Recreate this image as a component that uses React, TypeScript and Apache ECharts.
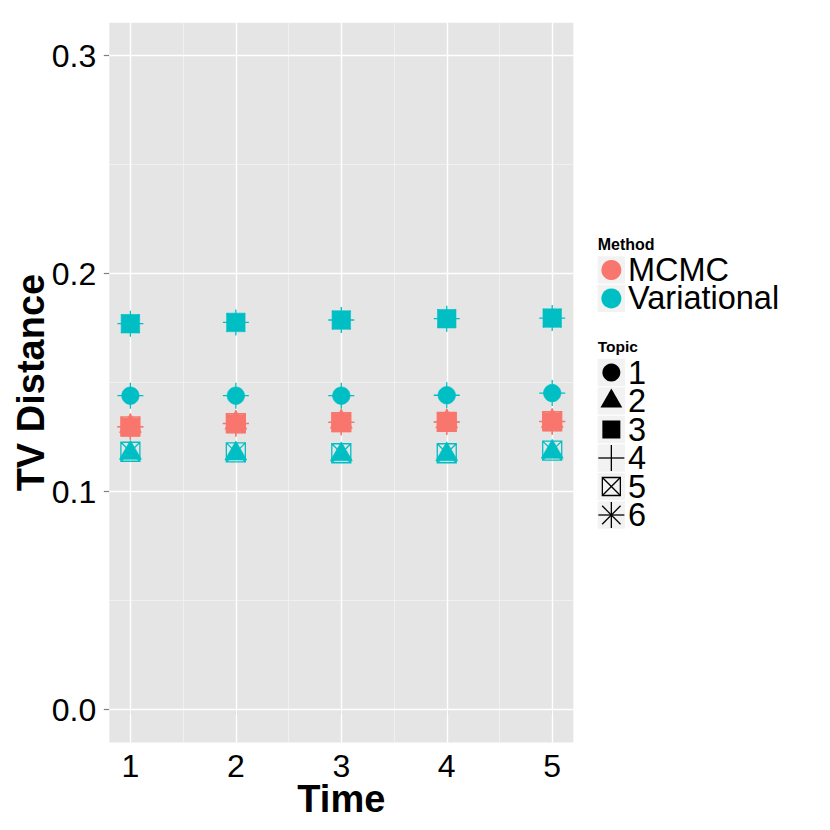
import React, { useEffect, useRef } from "react";
import * as echarts from "echarts";

// ---- Data ----
const times = [1, 2, 3, 4, 5];
const methods = ["MCMC", "Variational"];
const topics = ["1", "2", "3", "4", "5", "6"];
const methodColors = ["#F8766D", "#00BFC4"];

const mcmcTopic1 = [0.1298, 0.1313, 0.1318, 0.1319, 0.1321];
const mcmcTopic2 = [0.1301, 0.1316, 0.1321, 0.1322, 0.1324];
const mcmcTopic3 = [0.1296, 0.1311, 0.1317, 0.1318, 0.132];
const mcmcTopic4 = [0.1298, 0.1313, 0.1318, 0.132, 0.1322];
const mcmcTopic5 = [0.1299, 0.1314, 0.1319, 0.132, 0.1323];
const mcmcTopic6 = [0.1297, 0.1312, 0.1318, 0.1319, 0.1321];

const variationalTopic1 = [0.144, 0.144, 0.144, 0.1442, 0.1452];
const variationalTopic2 = [0.1178, 0.1175, 0.1171, 0.1171, 0.1183];
const variationalTopic3 = [0.177, 0.1776, 0.1787, 0.1793, 0.1796];
const variationalTopic4 = [0.144, 0.144, 0.144, 0.1442, 0.1452];
const variationalTopic5 = [0.1183, 0.118, 0.1176, 0.1176, 0.1188];
const variationalTopic6 = [0.177, 0.1776, 0.1787, 0.1793, 0.1796];

const valuesByMethod = [
  [mcmcTopic1, mcmcTopic2, mcmcTopic3, mcmcTopic4, mcmcTopic5, mcmcTopic6],
  [
    variationalTopic1,
    variationalTopic2,
    variationalTopic3,
    variationalTopic4,
    variationalTopic5,
    variationalTopic6,
  ],
];

const yTicks = [0, 0.1, 0.2, 0.3];
const yMinorTicks = [0.05, 0.15, 0.25];
const xTicks = [1, 2, 3, 4, 5];
const xMinorTicks = [1.5, 2.5, 3.5, 4.5];

const FONT = "'Liberation Sans', Arial, Helvetica, sans-serif";

type TopicSymbol = {
  symbol: string;
  size: number | number[];
  offset?: number[];
  filled: boolean;
};

const topicSymbols: TopicSymbol[] = [
  { symbol: "circle", size: 17.5, filled: true },
  { symbol: "triangle", size: [22, 19], offset: [0, -3], filled: true },
  { symbol: "rect", size: 18.5, filled: true },
  { symbol: "path://M0,10L20,10M10,0L10,20", size: 26, filled: false },
  {
    symbol: "path://M0,0L20,0L20,20L0,20ZM0,0L20,20M20,0L0,20",
    size: 19,
    filled: false,
  },
  {
    symbol:
      "path://M0,10L20,10M10,0L10,20M2.929,2.929L17.071,17.071M17.071,2.929L2.929,17.071",
    size: 26,
    filled: false,
  },
];

function buildLegend(): any[] {
  const els: any[] = [];
  const lx = 597.7;
  const key = 27.3;
  const cx = lx + key / 2;
  const labelX = 628;
  const step = 28.4;
  const keyBg = "#F2F2F2";

  els.push({
    type: "text",
    x: lx,
    y: 244,
    style: {
      text: "Method",
      font: `bold 16px ${FONT}`,
      fill: "#000",
      align: "left",
      verticalAlign: "middle",
      lineHeight: 14,
    },
  });
  methods.forEach((m, i) => {
    const cy = 270 + i * step;
    els.push({
      type: "rect",
      shape: { x: lx, y: cy - key / 2, width: key, height: key },
      style: { fill: keyBg },
    });
    els.push({
      type: "circle",
      shape: { cx, cy, r: 10 },
      style: { fill: methodColors[i] },
    });
    els.push({
      type: "text",
      x: labelX,
      y: cy,
      style: {
        text: m,
        font: `32.5px ${FONT}`,
        fill: "#000",
        align: "left",
        verticalAlign: "middle",
        lineHeight: 26,
      },
    });
  });

  els.push({
    type: "text",
    x: lx,
    y: 346,
    style: {
      text: "Topic",
      font: `bold 15.5px ${FONT}`,
      fill: "#000",
      align: "left",
      verticalAlign: "middle",
      lineHeight: 14,
    },
  });

  const line = (x1: number, y1: number, x2: number, y2: number) => ({
    type: "line",
    shape: { x1, y1, x2, y2 },
    style: { stroke: "#000", lineWidth: 1.3 },
  });

  topics.forEach((t, i) => {
    const cy = 372.5 + i * 28.5;
    els.push({
      type: "rect",
      shape: { x: lx, y: cy - key / 2, width: key, height: key },
      style: { fill: keyBg },
    });
    if (i === 0) {
      els.push({ type: "circle", shape: { cx, cy, r: 9 }, style: { fill: "#000" } });
    } else if (i === 1) {
      els.push({
        type: "polygon",
        shape: {
          points: [
            [cx, cy - 12.4],
            [cx + 10.9, cy + 6.4],
            [cx - 10.9, cy + 6.4],
          ],
        },
        style: { fill: "#000" },
      });
    } else if (i === 2) {
      els.push({
        type: "rect",
        shape: { x: cx - 9, y: cy - 9, width: 18, height: 18 },
        style: { fill: "#000" },
      });
    } else if (i === 3) {
      els.push(line(cx - 13, cy, cx + 13, cy));
      els.push(line(cx, cy - 13, cx, cy + 13));
    } else if (i === 4) {
      els.push({
        type: "rect",
        shape: { x: cx - 9, y: cy - 9, width: 18, height: 18 },
        style: { fill: "none", stroke: "#000", lineWidth: 1.3 },
      });
      els.push(line(cx - 9, cy - 9, cx + 9, cy + 9));
      els.push(line(cx + 9, cy - 9, cx - 9, cy + 9));
    } else {
      const d = 9.2;
      els.push(line(cx - 13, cy, cx + 13, cy));
      els.push(line(cx, cy - 13, cx, cy + 13));
      els.push(line(cx - d, cy - d, cx + d, cy + d));
      els.push(line(cx + d, cy - d, cx - d, cy + d));
    }
    els.push({
      type: "text",
      x: labelX,
      y: cy,
      style: {
        text: t,
        font: `32.5px ${FONT}`,
        fill: "#000",
        align: "left",
        verticalAlign: "middle",
        lineHeight: 26,
      },
    });
  });

  // axis titles
  els.push({
    type: "text",
    x: 341.3,
    y: 799,
    style: {
      text: "Time",
      font: `bold 38px ${FONT}`,
      fill: "#000",
      align: "center",
      verticalAlign: "middle",
    },
  });
  els.push({
    type: "text",
    x: 31,
    y: 382.6,
    rotation: Math.PI / 2,
    style: {
      text: "TV Distance",
      font: `bold 38px ${FONT}`,
      fill: "#000",
      align: "center",
      verticalAlign: "middle",
    },
  });
  return els;
}

export default function App() {
  const ref = useRef<HTMLDivElement>(null);

  useEffect(() => {
    document.body.style.margin = "0";
    if (!ref.current) return;
    const chart = echarts.init(ref.current, undefined, { renderer: "svg" });

    const gridLines = [
      ...yMinorTicks.map((v) => ({
        yAxis: v,
        lineStyle: { color: "#F2F2F2", width: 0.8, type: "solid" },
      })),
      ...xMinorTicks.map((v) => ({
        xAxis: v,
        lineStyle: { color: "#F2F2F2", width: 0.8, type: "solid" },
      })),
      ...yTicks.map((v) => ({
        yAxis: v,
        lineStyle: { color: "#FFFFFF", width: 1.4, type: "solid" },
      })),
      ...xTicks.map((v) => ({
        xAxis: v,
        lineStyle: { color: "#FFFFFF", width: 1.4, type: "solid" },
      })),
    ];

    const series: any[] = [];
    methods.forEach((m, mi) => {
      topics.forEach((t, ti) => {
        const sym = topicSymbols[ti];
        const color = methodColors[mi];
        const s: any = {
          type: "scatter",
          name: `${m} ${t}`,
          z: 3,
          symbol: sym.symbol,
          symbolSize: sym.size,
          symbolOffset: sym.offset || [0, 0],
          data: times.map((x, i) => [x, valuesByMethod[mi][ti][i]]),
          itemStyle: sym.filled
            ? { color, borderColor: color, borderWidth: 0.6, opacity: 1 }
            : {
                color: "rgba(0,0,0,0)",
                borderColor: color,
                borderWidth: 1.3,
                opacity: 1,
              },
          emphasis: { disabled: true },
          silent: true,
        };
        if (mi === 0 && ti === 0) {
          s.markLine = {
            silent: true,
            z: 1,
            symbol: ["none", "none"],
            label: { show: false },
            emphasis: { disabled: true },
            animation: false,
            data: gridLines,
          };
        }
        series.push(s);
      });
    });

    chart.setOption({
      animation: false,
      grid: {
        left: 109.3,
        top: 22.8,
        width: 464,
        height: 719.6,
        show: true,
        backgroundColor: "#E5E5E5",
        borderWidth: 0,
        containLabel: false,
        outerBoundsMode: "none",
      },
      xAxis: {
        type: "value",
        min: 0.8,
        max: 5.2,
        axisLine: { show: false },
        splitLine: { show: false },
        axisTick: {
          show: true,
          customValues: xTicks,
          length: 5.5,
          lineStyle: { color: "#7F7F7F", width: 1.2 },
        },
        axisLabel: {
          show: true,
          customValues: xTicks,
          margin: 8,
          fontSize: 32,
          fontFamily: FONT,
          color: "#000",
          formatter: (v: number) => String(v),
        },
      },
      yAxis: {
        type: "value",
        min: -0.015,
        max: 0.315,
        axisLine: { show: false },
        splitLine: { show: false },
        axisTick: {
          show: true,
          customValues: yTicks,
          length: 5.5,
          lineStyle: { color: "#7F7F7F", width: 1.2 },
        },
        axisLabel: {
          show: true,
          customValues: yTicks,
          margin: 13,
          fontSize: 32,
          fontFamily: FONT,
          color: "#000",
          formatter: (v: number) => v.toFixed(1),
        },
      },
      graphic: buildLegend(),
      series,
    });

    return () => {
      chart.dispose();
    };
  }, []);

  return <div ref={ref} style={{ width: 830, height: 830 }} />;
}
